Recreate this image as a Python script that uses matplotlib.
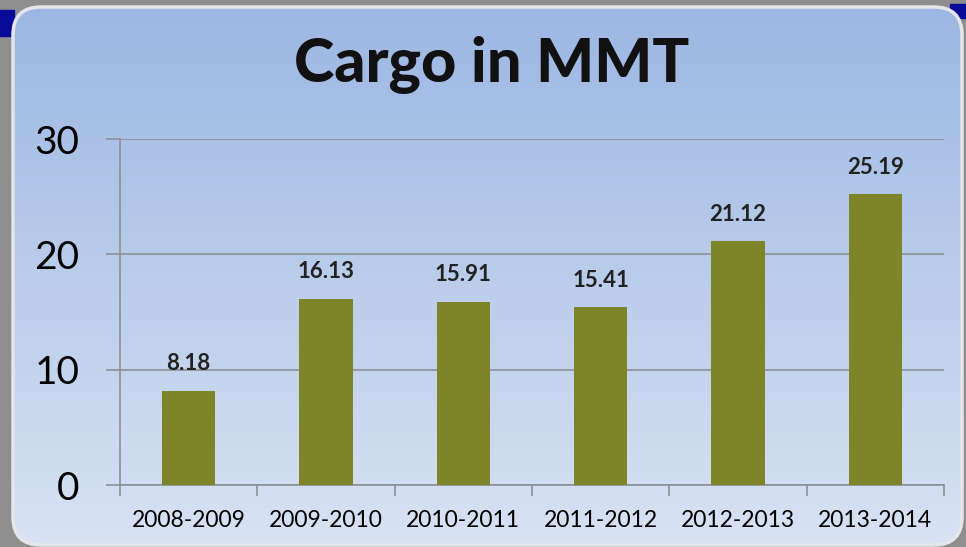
import numpy as np
import matplotlib
matplotlib.use("Agg")
import matplotlib.pyplot as plt
from matplotlib.patches import FancyBboxPatch, Rectangle

plt.rcParams['font.family'] = ['Lato', 'DejaVu Sans']

# data
years = ['2008-2009', '2009-2010', '2010-2011', '2011-2012', '2012-2013', '2013-2014']
cargo = [8.18, 16.13, 15.91, 15.41, 21.12, 25.19]
title = 'Cargo in MMT'

W, H = 966, 547
fig = plt.figure(figsize=(W / 100, H / 100), dpi=100)
fig.patch.set_facecolor('#8e8e8e')

# background panel with vertical gradient
bg = fig.add_axes([0, 0, 1, 1])
bg.set_xlim(0, W)
bg.set_ylim(H, 0)
bg.axis('off')
bg.add_patch(Rectangle((0, 10), 14, 26, color='#0a0a9a', zorder=0))
bg.add_patch(Rectangle((950, 4), 16, 14, color='#0a0a9a', zorder=0))
panel = FancyBboxPatch((13, 7), 949, 538, boxstyle='round,pad=0,rounding_size=28',
                       facecolor='none', edgecolor='#e4e6ea', lw=2.5, zorder=3)
bg.add_patch(panel)
grad = np.linspace(0, 1, 256).reshape(-1, 1)
top = np.array([0x9c, 0xb7, 0xe3]) / 255
bot = np.array([0xd8, 0xe2, 0xf3]) / 255
img = top + (bot - top) * grad[..., None]
im = bg.imshow(img, extent=[13, 962, 545, 7], aspect='auto', zorder=1)
im.set_clip_path(panel)

# chart
ax = fig.add_axes([120 / W, 1 - 485 / H, 824 / W, 346 / H])
ax.set_facecolor('none')
x = np.arange(len(years))
bars = ax.bar(x, cargo, width=0.39, color='#7e8428', zorder=3)
ax.set_xlim(-0.5, len(years) - 0.5)
ax.set_ylim(0, 30)
ax.set_yticks([0, 10, 20, 30])
ax.yaxis.grid(True, color='#8c8f96', lw=1.2, zorder=0)
ax.set_axisbelow(True)
for s in ['top', 'right']:
    ax.spines[s].set_visible(False)
for s in ['left', 'bottom']:
    ax.spines[s].set_color('#8c8f96')
    ax.spines[s].set_linewidth(1.2)

ax.set_xticks(x)
ax.set_xticklabels(years, fontsize=16.5)
ax.tick_params(axis='x', length=0, pad=18)
ax.set_xticks(np.arange(len(years) + 1) - 0.5, minor=True)
ax.tick_params(axis='x', which='minor', length=8, width=1.2, color='#8c8f96', direction='out')
ax.tick_params(axis='y', labelsize=28, length=10, width=1.2, color='#8c8f96', pad=19)

for b, v in zip(bars, cargo):
    ax.annotate(f'{v:.2f}', (b.get_x() + b.get_width() / 2, v), xytext=(0, 12),
                textcoords='offset points', ha='center', va='bottom',
                fontsize=16, fontweight='bold', color='#222222')

fig.text(492 / W, 1 - 65 / H, title, ha='center', va='center',
         fontsize=44, fontweight='black', color='#111111')

fig.savefig('out.png', dpi=100)
